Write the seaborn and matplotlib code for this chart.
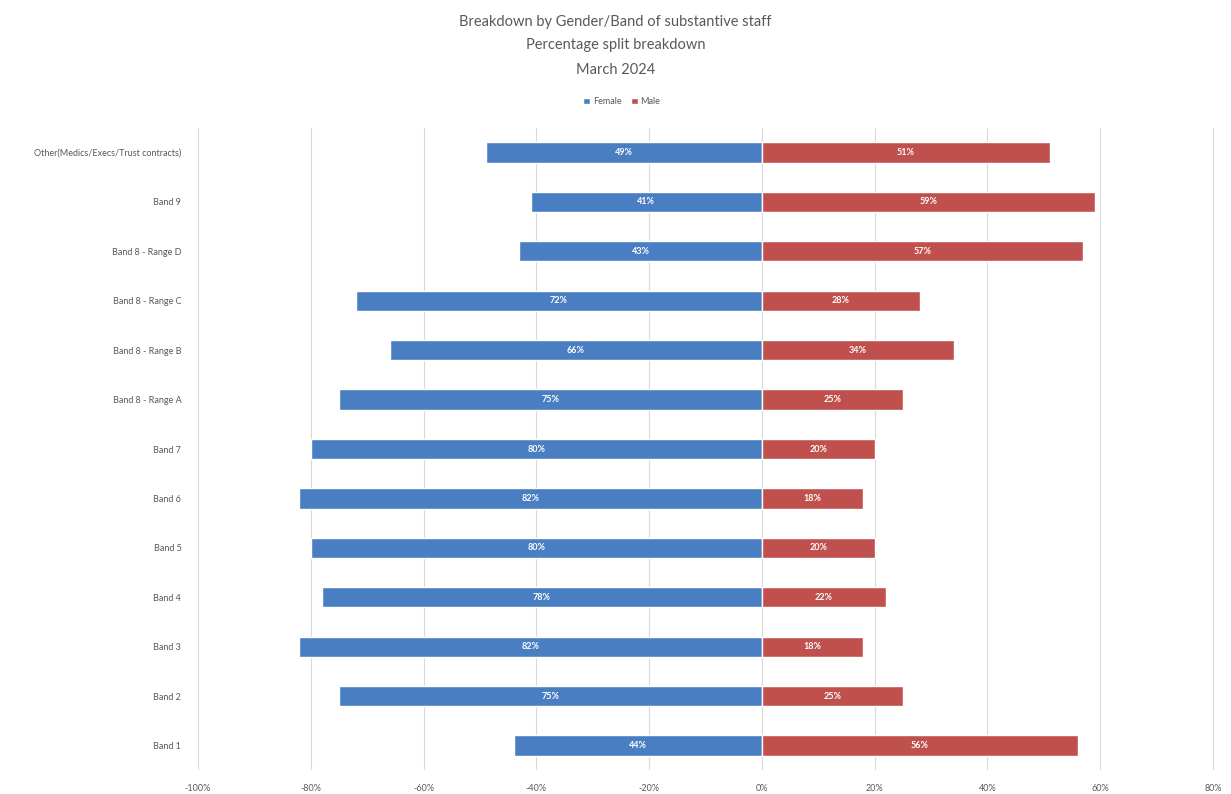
import matplotlib
matplotlib.use("Agg")
import matplotlib.pyplot as plt
import seaborn as sns
import pandas as pd
from matplotlib.patches import Patch
from matplotlib.ticker import FuncFormatter, MultipleLocator

categories = ["Other(Medics/Execs/Trust contracts)", "Band 9", "Band 8 - Range D",
              "Band 8 - Range C", "Band 8 - Range B", "Band 8 - Range A", "Band 7",
              "Band 6", "Band 5", "Band 4", "Band 3", "Band 2", "Band 1"]
female = [49, 41, 43, 72, 66, 75, 80, 82, 80, 78, 82, 75, 44]
male = [51, 59, 57, 28, 34, 25, 20, 18, 20, 22, 18, 25, 56]

sns.set_theme(style="white")
plt.rcParams['font.family'] = ['Lato', 'DejaVu Sans']

df = pd.DataFrame({
    "band": categories * 2,
    "value": [-v for v in female] + male,
    "gender": ["Female"] * len(categories) + ["Male"] * len(categories),
    "label": [f"{v}%" for v in female] + [f"{v}%" for v in male],
})

colors = {"Female": "#4A7EC2", "Male": "#C0504D"}

fig = plt.figure(figsize=(12.31, 7.94), dpi=100)
ax = fig.add_axes([0.1608, 0.030, 0.826, 0.809])

sns.barplot(data=df, y="band", x="value", hue="gender", order=categories,
            hue_order=["Female", "Male"], palette=colors, dodge=False,
            width=0.41, orient="h", ax=ax, legend=False, saturation=1)

for cont, g in zip(ax.containers, ["Female", "Male"]):
    labs = df[df.gender == g]["label"].tolist()
    ax.bar_label(cont, labels=labs, label_type="center", color="white",
                 fontsize=6.5, fontweight="bold")

ax.set_xlim(-100, 80.3)
ax.set_ylim(len(categories) - 0.5, -0.5)
ax.xaxis.set_major_locator(MultipleLocator(20))
ax.xaxis.set_major_formatter(FuncFormatter(lambda v, p: f"{int(round(v))}%"))
ax.grid(axis="x", color="#D9D9D9", linewidth=0.8)
ax.set_axisbelow(True)
for s in ax.spines.values():
    s.set_visible(False)
ax.tick_params(axis="x", labelsize=6.5, labelcolor="#595959", length=0, pad=10)
ax.tick_params(axis="y", labelsize=6.5, labelcolor="#595959", length=0, pad=12)
ax.set_xlabel("")
ax.set_ylabel("")

fig.text(0.5, 0.972, "Breakdown by Gender/Band of substantive staff", ha="center",
         va="center", fontsize=10.5, color="#595959")
fig.text(0.5, 0.943, "Percentage split breakdown", ha="center", va="center",
         fontsize=10.5, color="#595959")
fig.text(0.5, 0.912, "March 2024", ha="center", va="center", fontsize=10.5,
         color="#595959")

handles = [Patch(facecolor=colors["Female"], label="Female"),
           Patch(facecolor=colors["Male"], label="Male")]
fig.legend(handles=handles, loc="center", bbox_to_anchor=(0.505, 0.872), ncol=2,
           frameon=False, fontsize=6.5, labelcolor="#595959", handlelength=0.8,
           handleheight=0.8, handletextpad=0.3, columnspacing=1.0)

fig.savefig("out.png", dpi=100)
